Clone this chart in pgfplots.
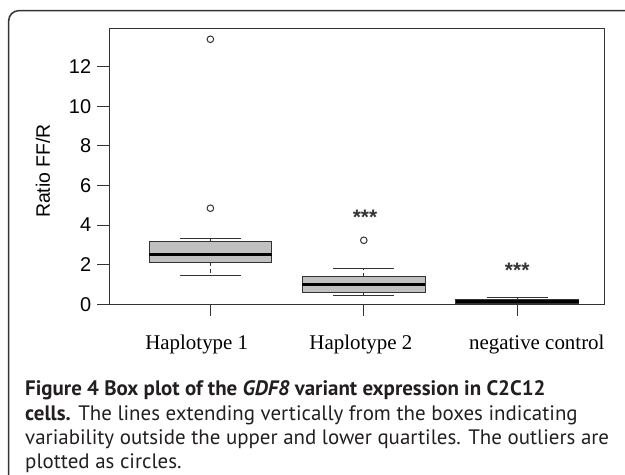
\documentclass[border=0pt]{standalone}
\usepackage{fontspec}
\setmainfont{Liberation Sans}
\newfontfamily\seriffont{Liberation Serif}
\newfontfamily\capfont{PT Sans}
\usepackage{pgfplots}
\pgfplotsset{compat=1.18}
\usepgfplotslibrary{statistics}
\definecolor{boxgray}{HTML}{C0C0C0}
\definecolor{linegray}{HTML}{333333}
\definecolor{captext}{HTML}{231F20}

\begin{document}
\begin{tikzpicture}[x=1bp,y=1bp]
\useasboundingbox (0,0) rectangle (625,475);
% frame round the figure (only top and left show)
\draw[linegray, line width=1.5bp, rounded corners=10bp] (8.7,-20) -- (8.7,464.3) -- (660,464.3);

\begin{axis}[
  at={(109.3bp,170.7bp)}, anchor=south west,
  scale only axis, width=494.7bp, height=275.3bp,
  xmin=0.341, xmax=3.566, ymin=0, ymax=13.9,
  axis line style={linegray, line width=1bp},
  tick style={linegray, line width=1bp},
  tick align=outside, major tick length=12bp,
  xtick={1,2,3}, xticklabels={},
  xtick pos=bottom, ytick pos=left,
  ytick={0,2,...,12},
  /pgf/number format/assume math mode=true,
  yticklabel style={font=\fontsize{20}{20}\selectfont, anchor=east, inner sep=0pt, xshift=-6bp},
  clip=false,
  boxplot/draw direction=y,
  boxplot/box extend=0.8,
  boxplot/whisker extend=0.4,
  boxplot/every box/.style={fill=boxgray, draw=linegray, line width=1bp},
  boxplot/every median/.style={black, line width=3bp},
  boxplot/draw/lower whisker/.code={
    \draw[linegray, line width=1bp, dash pattern=on 4bp off 3bp]
      (boxplot box cs:\pgfplotsboxplotvalue{lower quartile},0.5) --
      (boxplot box cs:\pgfplotsboxplotvalue{lower whisker},0.5);
    \draw[linegray, line width=1bp]
      (boxplot whisker cs:\pgfplotsboxplotvalue{lower whisker},0) --
      (boxplot whisker cs:\pgfplotsboxplotvalue{lower whisker},1);
  },
  boxplot/draw/upper whisker/.code={
    \draw[linegray, line width=1bp, dash pattern=on 4bp off 3bp]
      (boxplot box cs:\pgfplotsboxplotvalue{upper quartile},0.5) --
      (boxplot box cs:\pgfplotsboxplotvalue{upper whisker},0.5);
    \draw[linegray, line width=1bp]
      (boxplot whisker cs:\pgfplotsboxplotvalue{upper whisker},0) --
      (boxplot whisker cs:\pgfplotsboxplotvalue{upper whisker},1);
  },
]

% Haplotype 1
\addplot[linegray, line width=1bp, mark=o, mark size=3.3bp,
  boxplot prepared={draw position=1, median=2.53, upper quartile=3.16,
    lower quartile=2.12, upper whisker=3.31, lower whisker=1.43}]
  table[row sep=\\, y index=0] {data\\ 13.38\\ 4.85\\};
% Haplotype 2
\addplot[linegray, line width=1bp, mark=o, mark size=3.3bp,
  boxplot prepared={draw position=2, median=1.01, upper quartile=1.39,
    lower quartile=0.61, upper whisker=1.80, lower whisker=0.42}]
  table[row sep=\\, y index=0] {data\\ 3.23\\};
% negative control
\addplot[linegray, line width=1bp,
  boxplot prepared={draw position=3, median=0.15, upper quartile=0.25,
    lower quartile=0.05, upper whisker=0.33, lower whisker=0.02}]
  coordinates {};

% significance stars
\node[font=\bfseries\fontsize{21}{21}\selectfont, text=linegray, anchor=base] at (axis cs:2.008,4.03) {***};
\node[font=\bfseries\fontsize{21}{21}\selectfont, text=linegray, anchor=base] at (axis cs:3.0,1.35) {***};

% category labels
\node[font=\seriffont\fontsize{21}{21}\selectfont, anchor=base, yshift=-45.7bp] at (axis cs:0.911,0) {Haplotype 1};
\node[font=\seriffont\fontsize{21}{21}\selectfont, anchor=base, yshift=-45.7bp] at (axis cs:1.981,0) {Haplotype 2};
\node[font=\seriffont\fontsize{21}{21}\selectfont, anchor=base, yshift=-45.7bp] at (axis cs:3.128,0) {negative control};
\end{axis}

\node[rotate=90, font=\fontsize{19.5}{19.5}\selectfont, anchor=center] at (43,304) {Ratio FF/R};

% caption
\begin{scope}[every node/.style={anchor=base west, inner sep=0pt, text=captext, font=\capfont\fontsize{21}{21}\selectfont}]
\node at (25,79.5) {\textbf{Figure 4 Box plot of the \textit{GDF8} variant expression in C2C12}};
\node at (25,54.5) {\textbf{cells.} The lines extending vertically from the boxes indicating};
\node at (25,30) {variability outside the upper and lower quartiles. The outliers are};
\node at (25,6) {plotted as circles.};
\end{scope}
\end{tikzpicture}
\end{document}
